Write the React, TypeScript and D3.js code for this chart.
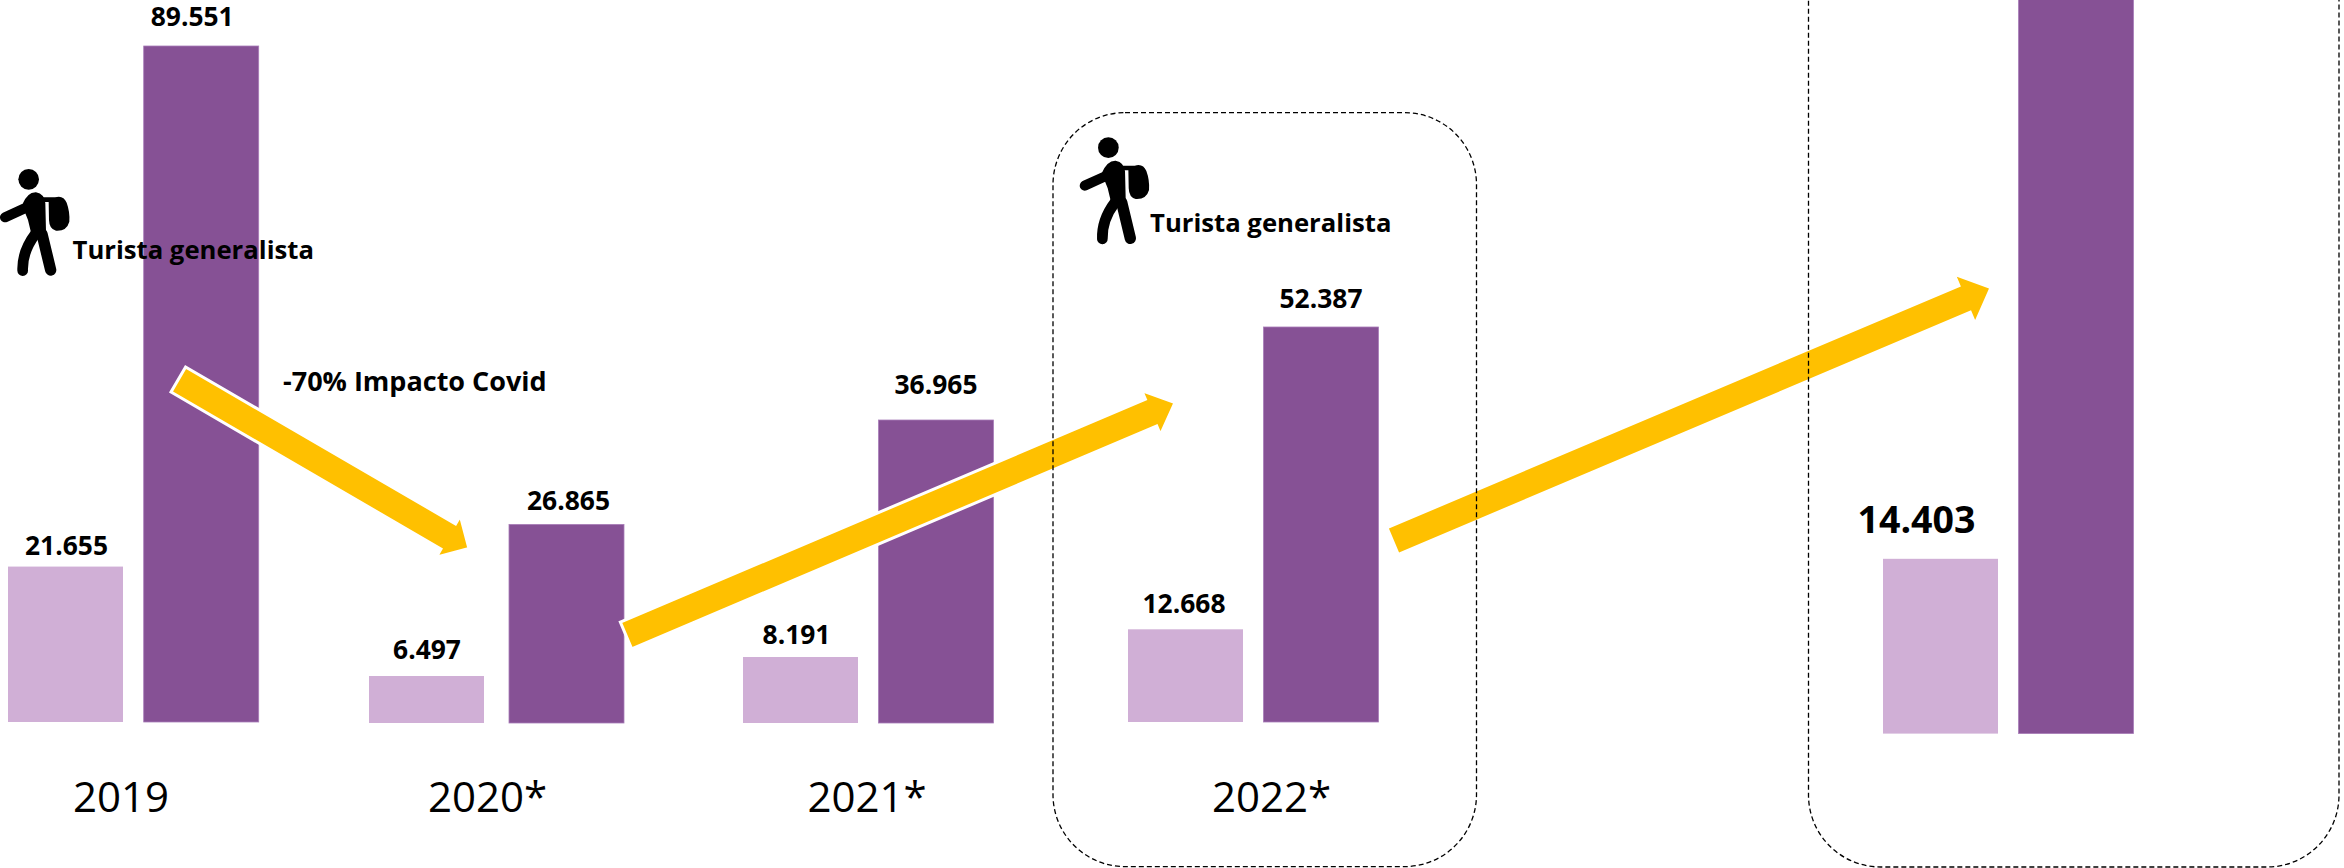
import React from "react";
import * as d3 from "d3";

// ---- data ----
const years = ["2019", "2020*", "2021*", "2022*", ""];
const seriesNames = ["light", "dark"];
const lightValues = [21655, 6497, 8191, 12668, 14403];
const darkValues = [89551, 26865, 36965, 52387, 93000]; // last bar runs off the picture, label not visible
const lightLabels = ["21.655", "6.497", "8.191", "12.668", "14.403"];
const darkLabels = ["89.551", "26.865", "36.965", "52.387", ""];

// ---- layout (every panel in the reference is a separately pasted chart with its own scale) ----
const W = 2344;
const H = 868;
const panelLeft = [8, 369, 743, 1128, 1883];
const panelWidth = [250.7, 255, 250.5, 250.5, 250.5];
const panelBase = [722, 723, 723, 722, 733.6];
const lightFull = [100600, 99940, 89730, 98670, 60450];
const darkFull = [95645, 97800, 88205, 95755, 60450];
const yearCenter = [121, 487.5, 867, 1271.5];
const lightLabelDx = [1, 0.5, -4, -1.5, -24];
const darkLabelDx = [-9, 2, 0, 0, 0];
const lightLabelGap = [12, 17, 13, 16, 26];
const darkLabelGap = [20, 14, 26, 19, 0];
const BAR = 115;

const arrows = [
  { from: [178.3, 379.5], to: [469, 548.5], shaft: 29, head: 48, len: 24 },
  { from: [626, 635.5], to: [1175, 402.5], shaft: 29, head: 48, len: 26 },
  { from: [1394, 540.5], to: [1989, 288.6], shaft: 26, head: 47, len: 25 },
];

const FONT = "'Open Sans', sans-serif";
const DARK = "#865195";
const LIGHT = "#D0AFD6";
const YELLOW = "#FFC000";

const arrowLine = d3.line();

function arrowPath(a: (typeof arrows)[number]) {
  const dx = a.to[0] - a.from[0];
  const dy = a.to[1] - a.from[1];
  const L = Math.hypot(dx, dy);
  const ux = dx / L;
  const uy = dy / L;
  const nx = -uy;
  const ny = ux;
  const p = (along: number, across: number): [number, number] => [
    a.from[0] + ux * along + nx * across,
    a.from[1] + uy * along + ny * across,
  ];
  const neck = L - a.len;
  return (
    arrowLine([
      p(0, -a.shaft / 2),
      p(neck, -a.shaft / 2),
      p(neck, -a.head / 2),
      p(L, 0),
      p(neck, a.head / 2),
      p(neck, a.shaft / 2),
      p(0, a.shaft / 2),
    ]) + "Z"
  );
}

function Hiker({ dx, dy }: { dx: number; dy: number }) {
  return (
    <g transform={`translate(${dx},${dy}) scale(${1 / 3})`} fill="#000" stroke="none">
      <circle cx={86} cy={118} r={31} />
      <path d="M15 232 L72 206" stroke="#000" strokeWidth={30} strokeLinecap="round" fill="none" />
      <path d="M66 195 Q82 156 108 157 Q134 162 136 190 L138 272 L96 290 L84 240 Z" />
      <path d="M126 282 L152 390" stroke="#000" strokeWidth={34} strokeLinecap="round" fill="none" />
      <path d="M106 282 Q66 335 68 392" stroke="#000" strokeWidth={32} strokeLinecap="round" fill="none" />
      <path d="M128 172 L165 172 Q190 164 200 188 Q210 215 208 245 Q200 274 168 272 Q148 268 147 240 L146 186 L128 186 Z" />
    </g>
  );
}

export default function App() {
  return (
    <svg
      width={W}
      height={H}
      viewBox={`0 0 ${W} ${H}`}
      style={{ position: "absolute", left: 0, top: 0, display: "block", background: "#fff" }}
      fontFamily={FONT}
    >
      {years.map((year, i) => {
        const x = d3
          .scaleBand<string>()
          .domain(seriesNames)
          .range([panelLeft[i], panelLeft[i] + panelWidth[i]])
          .paddingInner(1 - BAR / (panelWidth[i] - BAR));
        const yLight = d3.scaleLinear().domain([0, lightFull[i]]).range([panelBase[i], 0]);
        const yDark = d3.scaleLinear().domain([0, darkFull[i]]).range([panelBase[i], 0]);
        const lx = x("light") as number;
        const dx = x("dark") as number;
        const bw = x.bandwidth();
        return (
          <g key={i}>
            <rect
              x={lx}
              y={yLight(lightValues[i])}
              width={bw}
              height={panelBase[i] - yLight(lightValues[i])}
              fill={LIGHT}
            />
            <rect
              x={dx}
              y={yDark(darkValues[i])}
              width={bw}
              height={panelBase[i] - yDark(darkValues[i])}
              fill={DARK}
              stroke="#A97DB8"
              strokeWidth={0.8}
            />
            <text
              x={lx + bw / 2 + lightLabelDx[i]}
              y={yLight(lightValues[i]) - lightLabelGap[i]}
              textAnchor="middle"
              fontWeight={700}
              fontSize={i === 4 ? 37.5 : 26.4}
              fill="#000"
            >
              {lightLabels[i]}
            </text>
            {darkLabels[i] && (
              <text
                x={dx + bw / 2 + darkLabelDx[i]}
                y={yDark(darkValues[i]) - darkLabelGap[i]}
                textAnchor="middle"
                fontWeight={700}
                fontSize={26.4}
                fill="#000"
              >
                {darkLabels[i]}
              </text>
            )}
            {year && (
              <text x={yearCenter[i]} y={812} textAnchor="middle" fontSize={42} fill="#000">
                {year}
              </text>
            )}
          </g>
        );
      })}

      {arrows.map((a, i) => (
        <path key={i} d={arrowPath(a) as string} fill={YELLOW} stroke={i < 2 ? "#fff" : "none"} strokeWidth={3} />
      ))}

      <rect x={1053} y={112.6} width={423.5} height={754} rx={72} ry={72} fill="none" stroke="#000" strokeWidth={1.3} strokeDasharray="5 3" />
      <rect x={1808.5} y={-200} width={530.5} height={1067} rx={72} ry={72} fill="none" stroke="#000" strokeWidth={1.3} strokeDasharray="5 3" />

      <Hiker dx={0} dy={140} />
      <Hiker dx={1079.7} dy={108.3} />

      <text x={72.5} y={259} fontWeight={700} fontSize={25.7} fill="#000">Turista generalista</text>
      <text x={1150} y={232} fontWeight={700} fontSize={25.7} fill="#000">Turista generalista</text>
      <text x={283} y={391} fontWeight={700} fontSize={27} fill="#000">-70% Impacto Covid</text>
    </svg>
  );
}
